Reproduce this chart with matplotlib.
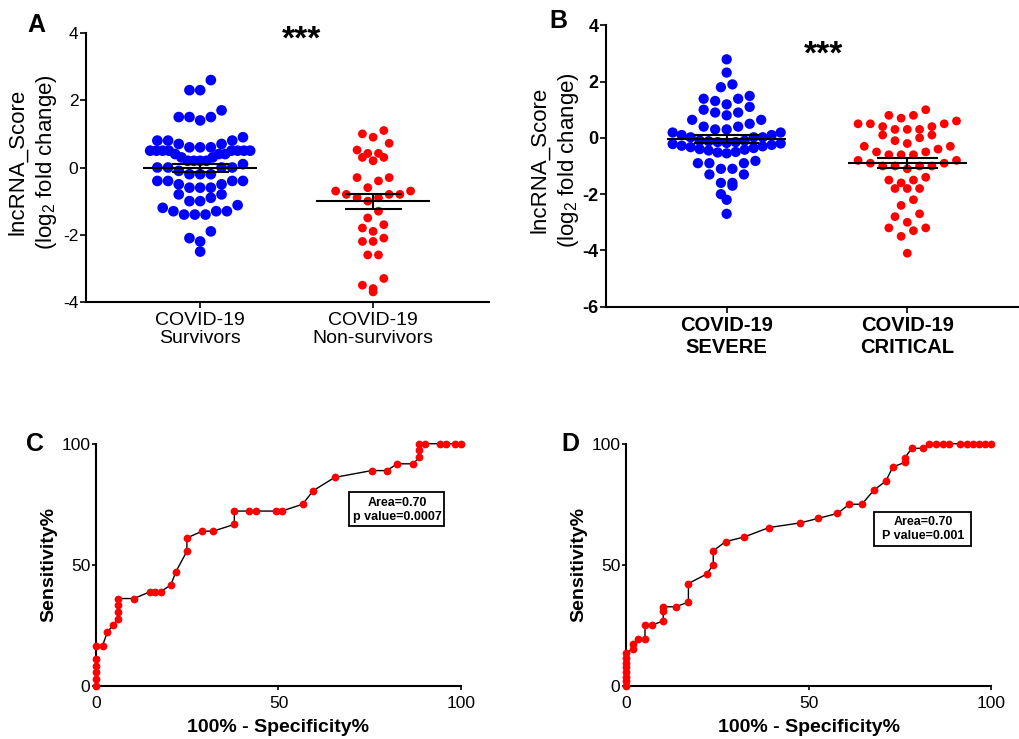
import numpy as np
import matplotlib
matplotlib.use('Agg')
import matplotlib.pyplot as plt
from matplotlib.patches import Rectangle

plt.rcParams['font.family'] = ['Liberation Sans', 'DejaVu Sans']
plt.rcParams['mathtext.fontset'] = 'custom'
plt.rcParams['mathtext.rm'] = 'Liberation Sans'
plt.rcParams['mathtext.bf'] = 'Liberation Sans:bold'
plt.rcParams['axes.unicode_minus'] = False

# ---- data ----
# panel A: survivors / non-survivors (log2 fold change)
a_groups = ['COVID-19\nSurvivors', 'COVID-19\nNon-survivors']
a_surv = [2.6, 2.3, 2.3, 1.7, 1.5, 1.5, 1.5, 1.4,
          0.9, 0.8, 0.8, 0.8, 0.7, 0.7, 0.6, 0.6, 0.6,
          0.5, 0.5, 0.5, 0.5, 0.5, 0.5, 0.5, 0.5, 0.4, 0.4, 0.4, 0.3, 0.3, 0.2, 0.2, 0.2, 0.2,
          0.1, 0.0, 0.0, 0.0, 0.0, -0.1, -0.2, -0.2, -0.2,
          -0.4, -0.4, -0.4, -0.4, -0.5, -0.5, -0.6, -0.6, -0.6,
          -0.8, -0.8, -0.9, -1.0, -1.0,
          -1.12, -1.2, -1.3, -1.3, -1.3, -1.4, -1.4, -1.4,
          -1.9, -2.1, -2.2, -2.5]
a_nonsurv = [1.1, 1.0, 0.9, 0.72, 0.52, 0.42, 0.42, 0.3, 0.3, 0.2,
             -0.3, -0.3, -0.4, -0.6, -0.7, -0.7, -0.8, -0.8, -0.8, -0.9, -0.9, -1.0,
             -1.3, -1.5, -1.7, -1.8, -1.9, -2.1, -2.2, -2.2, -2.6, -2.6,
             -3.3, -3.5, -3.6, -3.7]

# panel B: severe / critical
b_groups = ['COVID-19\nSEVERE', 'COVID-19\nCRITICAL']
b_severe = [2.79, 2.32, 1.90, 1.80, 1.49, 1.39, 1.39, 1.31, 1.19, 1.10, 1.00, 0.90, 0.90, 0.80,
            0.64, 0.64, 0.50, 0.40, 0.40, 0.30, 0.30, 0.19, 0.19, 0.10, 0.10, 0.02, 0.02, 0.02,
            -0.10, -0.10, -0.12, -0.15, -0.15, -0.18, -0.20, -0.22, -0.25, -0.28, -0.30,
            -0.33, -0.36, -0.40, -0.42, -0.45, -0.50, -0.52, -0.55,
            -0.82, -0.90, -0.90, -0.90, -1.10, -1.10, -1.30, -1.30, -1.60, -1.60, -1.70,
            -2.00, -2.20, -2.70]
b_critical = [1.0, 0.8, 0.8, 0.7, 0.6, 0.5, 0.5, 0.5, 0.4, 0.4, 0.3, 0.3, 0.3, 0.1, 0.1, 0.0,
              -0.1, -0.2, -0.3, -0.3, -0.4, -0.5, -0.5, -0.6, -0.6, -0.6, -0.8, -0.8, -0.9, -0.9,
              -1.0, -1.0, -1.0, -1.0, -1.1, -1.4, -1.5, -1.5, -1.6, -1.8, -1.8, -1.8,
              -2.2, -2.4, -2.7, -2.8, -3.0, -3.2, -3.2, -3.3, -3.5, -4.1]

# panel C: ROC (100% - specificity, sensitivity)
c_fpr = [0, 0, 0, 0, 0, 0, 1.8, 3.1, 4.6, 6.1, 6.1, 6.1, 6.1, 10.4, 14.8, 16.2, 17.7, 20.5, 21.9,
         24.9, 24.9, 29.1, 32.1, 37.9, 37.9, 42.0, 43.7, 49.3, 50.9, 56.6, 59.5, 65.4, 75.5, 79.6,
         82.6, 86.9, 88.6, 88.6, 88.6, 90.1, 94.2, 95.8, 98.4, 100]
c_sens = [0, 2.8, 5.6, 8.3, 11.1, 16.7, 16.7, 22.2, 25.0, 27.8, 30.6, 33.3, 36.1, 36.1, 38.9, 38.9,
          38.9, 41.7, 47.2, 55.6, 61.1, 63.9, 63.9, 66.7, 72.2, 72.2, 72.2, 72.2, 72.2, 75.0, 80.6,
          86.1, 88.9, 88.9, 91.7, 91.7, 94.4, 97.2, 100, 100, 100, 100, 100, 100]
c_text = 'Area=0.70\np value=0.0007'

# panel D: ROC
d_fpr = [0, 0, 0, 0, 0, 0, 0, 0, 1.8, 1.8, 3.4, 5.2, 5.2, 7.0, 10.2, 10.2, 10.2, 13.6, 17.1, 17.1,
         22.1, 23.9, 23.9, 27.3, 32.4, 39.2, 47.7, 52.7, 57.9, 61.2, 64.6, 67.9, 71.2, 73.1, 76.4,
         76.4, 78.3, 81.5, 83.1, 84.9, 86.8, 88.6, 91.5, 93.3, 95.0, 96.8, 98.4, 100]
d_sens = [0, 1.9, 3.8, 5.8, 7.7, 9.6, 11.5, 13.5, 15.4, 17.3, 19.2, 19.2, 25.0, 25.0, 26.9, 30.8,
          32.7, 32.7, 34.6, 42.3, 46.2, 50.0, 55.8, 59.6, 61.5, 65.4, 67.3, 69.2, 71.2, 75.0, 75.0,
          80.8, 84.6, 90.4, 92.3, 94.2, 98.1, 98.1, 100, 100, 100, 100, 100, 100, 100, 100, 100, 100]
d_text = 'Area=0.70\nP value=0.001'

BLUE = '#0000ff'
RED = '#ff0000'
W, H = 1020, 739


def px_axes(fig, left, top, right, bottom):
    return fig.add_axes([left / W, 1 - bottom / H, (right - left) / W, (bottom - top) / H])


def row_swarm(ax, values, center, spacing_px, row_px, max_w_px):
    # prism style: group values into rows, spread each row sideways, lowest in the middle
    vals = np.asarray(values, float)
    (x0, y0), (x1, y1) = ax.transData.transform([(0, 0), (1, 1)])
    sx, sy = x1 - x0, y1 - y0
    h = row_px / sy
    order = np.argsort(-vals, kind='stable')
    rows, cur = [], [order[0]]
    for i in order[1:]:
        if vals[cur[0]] - vals[i] < h:
            cur.append(i)
        else:
            rows.append(cur)
            cur = [i]
    rows.append(cur)
    xs = np.zeros(len(vals))
    for row in rows:
        n = len(row)
        step = min(spacing_px, max_w_px / (n - 1)) if n > 1 else 0
        row_sorted = sorted(row, key=lambda i: vals[i])
        slots = sorted(np.arange(n) - (n - 1) / 2, key=lambda s: (abs(s), s))
        for i, s in zip(row_sorted, slots):
            xs[i] = center + s * step / sx
    return xs


def mean_sem(ax, values, center, half=0.33, cap=0.165):
    v = np.asarray(values, float)
    m = v.mean()
    sem = v.std(ddof=1) / np.sqrt(len(v))
    ax.hlines(m, center - half, center + half, color='black', lw=1.5, zorder=4)
    ax.hlines([m - sem, m + sem], center - cap, center + cap, color='black', lw=1.5, zorder=4)
    ax.vlines(center, m - sem, m + sem, color='black', lw=1.5, zorder=4)


def style_axes(ax):
    for s in ['top', 'right']:
        ax.spines[s].set_visible(False)
    for s in ['left', 'bottom']:
        ax.spines[s].set_linewidth(1.5)
    ax.tick_params(width=1.2, length=4)


fig = plt.figure(figsize=(10.2, 7.39), dpi=100)

# ---------------- A ----------------
axA = px_axes(fig, 86, 33, 489, 302)
axA.set_xlim(-0.66, 1.67)
axA.set_ylim(-4, 4)
style_axes(axA)
xs = row_swarm(axA, a_surv, 0, 10.7, 10.5, 100)
axA.scatter(xs, a_surv, s=59, color=BLUE, edgecolors='none', zorder=2, clip_on=False)
xs = row_swarm(axA, a_nonsurv, 1, 10.7, 10.5, 100)
axA.scatter(xs, a_nonsurv, s=40, color=RED, edgecolors='none', zorder=2, clip_on=False)
mean_sem(axA, a_surv, 0)
mean_sem(axA, a_nonsurv, 1)
axA.set_xticks([0, 1])
axA.set_xticklabels(a_groups, fontsize=14, linespacing=1.12)
axA.set_yticks([-4, -2, 0, 2, 4])
axA.tick_params(axis='y', labelsize=12.5, pad=1.5)
axA.tick_params(axis='x', pad=3)
fig.text(33 / W, 1 - 162 / H, 'lncRNA_Score\n(log$_2$ fold change)', rotation=90,
         ha='center', va='center', fontsize=16, linespacing=1.3)
fig.text(36 / W, 1 - 25 / H, 'A', ha='center', va='center', fontsize=18, fontweight='bold')
fig.text(302 / W, 1 - 40 / H, '***', ha='center', va='center', fontsize=24, fontweight='bold')

# ---------------- B ----------------
axB = px_axes(fig, 606, 25.3, 1020, 306.7)
axB.set_xlim(-0.668, 1.624)
axB.set_ylim(-6, 4)
style_axes(axB)
xs = row_swarm(axB, b_severe, 0, 11.5, 10.5, 108)
axB.scatter(xs, b_severe, s=55, color=BLUE, edgecolors='none', zorder=2, clip_on=False)
xs = row_swarm(axB, b_critical, 1, 12.3, 9.5, 108)
axB.scatter(xs, b_critical, s=40, color=RED, edgecolors='none', zorder=2, clip_on=False)
mean_sem(axB, b_severe, 0, half=0.33, cap=0.18)
mean_sem(axB, b_critical, 1, half=0.33, cap=0.17)
axB.set_xticks([0, 1])
axB.set_xticklabels(b_groups, fontsize=14.5, fontweight='bold', linespacing=1.15)
axB.set_yticks([-6, -4, -2, 0, 2, 4])
for lab in axB.get_yticklabels():
    lab.set_fontweight('bold')
axB.tick_params(axis='y', labelsize=13, pad=1.5)
axB.tick_params(axis='x', pad=3)
fig.text(555 / W, 1 - 160 / H, 'lncRNA_Score\n(log$_2$ fold change)', rotation=90,
         ha='center', va='center', fontsize=16, linespacing=1.3)
fig.text(558 / W, 1 - 21 / H, 'B', ha='center', va='center', fontsize=18, fontweight='bold')
fig.text(824 / W, 1 - 55 / H, '***', ha='center', va='center', fontsize=24, fontweight='bold')


# ---------------- C / D ----------------
def roc_panel(left, fpr, sens, letter, letter_x, box, txt, txt_xy):
    ax = px_axes(fig, left, 443.7, left + 365, 686)
    ax.set_xlim(0, 100)
    ax.set_ylim(0, 100)
    style_axes(ax)
    ax.plot(fpr, sens, color='black', lw=1.0, zorder=2, clip_on=False)
    ax.plot(fpr, sens, 'o', color=RED, ms=5.6, mew=0, zorder=3, clip_on=False)
    ax.set_xticks([0, 50, 100])
    ax.set_yticks([0, 50, 100])
    ax.tick_params(axis='both', labelsize=12.5, length=3)
    ax.tick_params(axis='y', pad=1)
    ax.tick_params(axis='x', pad=4)
    ax.set_xlabel('100% - Specificity%', fontsize=14, fontweight='bold', labelpad=6)
    ax.set_ylabel('Sensitivity%', fontsize=14, fontweight='bold', labelpad=3)
    ax.add_patch(Rectangle((box[0], box[1]), box[2] - box[0], box[3] - box[1],
                           transform=ax.transAxes, fill=False, lw=1.3, ec='black', clip_on=False))
    ax.text(txt_xy[0], txt_xy[1], txt, transform=ax.transAxes, ha='center', va='center',
            fontsize=9, fontweight='bold', linespacing=1.2)
    fig.text(letter_x / W, 1 - 444 / H, letter, ha='center', va='center', fontsize=18,
             fontweight='bold')
    return ax


axC = roc_panel(96, c_fpr, c_sens, 'C', 35, (0.693, 0.660, 0.953, 0.801), c_text, (0.826, 0.728))
axD = roc_panel(626, d_fpr, d_sens, 'D', 570, (0.679, 0.578, 0.945, 0.718), d_text, (0.815, 0.648))

fig.savefig('out.png', dpi=100)
